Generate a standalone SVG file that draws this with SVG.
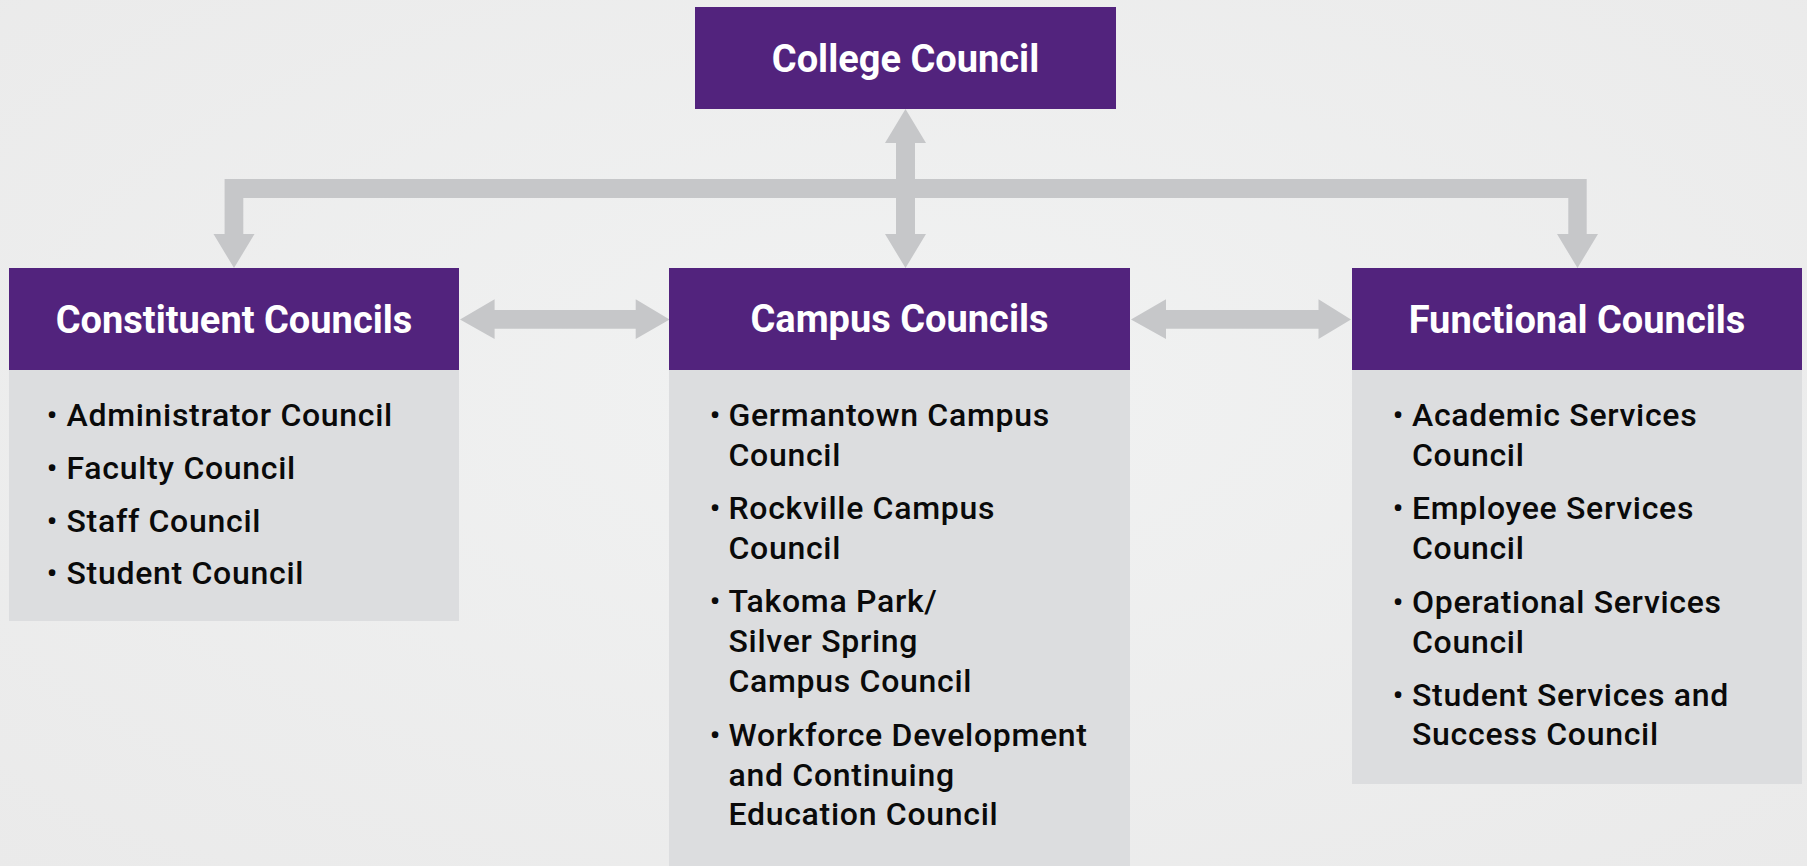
<svg xmlns="http://www.w3.org/2000/svg" width="1807" height="866" viewBox="0 0 1807 866">
<defs>
<radialGradient id="bg" cx="0.5" cy="0.45" r="0.75">
<stop offset="0" stop-color="#f1f2f2"/>
<stop offset="1" stop-color="#eaeaea"/>
</radialGradient>
<style>
.hdr{fill:#52237d}
.body{fill:#dcdddf}
.conn{fill:#c6c7c9}
.ht{font-family:Roboto,"Liberation Sans",sans-serif;font-weight:700;font-size:38px;fill:#ffffff;text-anchor:middle}
.it{font-family:Roboto,"Liberation Sans",sans-serif;font-weight:500;font-size:32px;letter-spacing:0.7px;fill:#0a0a0a}
.bu{font-family:Roboto,"Liberation Sans",sans-serif;font-weight:500;font-size:30px;fill:#0a0a0a;text-anchor:middle}
</style>
</defs>
<rect width="1807" height="866" fill="url(#bg)"/>
<g id="connectors">
<polygon class="conn" points="224.6,179 1586.7,179 1586.7,234 1598,234 1577.5,268 1557,234 1568.3,234 1568.3,198 243.3,198 243.3,234 254.5,234 234,268 213.5,234 224.6,234"/>
<polygon class="conn" points="905.5,109 926,143 915,143 915,234 926,234 905.5,268 885,234 896,234 896,143 885,143"/>
<polygon class="conn" points="460,319.5 494.6,299.3 494.6,310 635.7,310 635.7,299.3 669.6,319.5 635.7,339 635.7,328.7 494.6,328.7 494.6,339"/>
<polygon class="conn" points="1131,319.5 1166,299.3 1166,310 1318.5,310 1318.5,299.3 1351,319.5 1318.5,339 1318.5,328.7 1166,328.7 1166,339"/>
</g>
<g id="college">
<rect class="hdr" x="695" y="7" width="421" height="102"/>
<text class="ht" x="905.5" y="72">College Council</text>
</g>
<g id="constituent">
<rect class="body" x="9" y="370" width="450" height="251"/>
<rect class="hdr" x="9" y="268" width="450" height="102"/>
<text class="ht" x="234" y="333">Constituent Councils</text>
<text class="bu" x="52" y="426">•</text><text class="it" x="66.5" y="426">Administrator Council</text>
<text class="bu" x="52" y="479">•</text><text class="it" x="66.5" y="479">Faculty Council</text>
<text class="bu" x="52" y="531.7">•</text><text class="it" x="66.5" y="531.7">Staff Council</text>
<text class="bu" x="52" y="584">•</text><text class="it" x="66.5" y="584">Student Council</text>
</g>
<g id="campus">
<rect class="body" x="669" y="370" width="461" height="496"/>
<rect class="hdr" x="669" y="268" width="461" height="102"/>
<text class="ht" x="899.5" y="332">Campus Councils</text>
<text class="bu" x="715" y="425.7">•</text><text class="it" x="728.5" y="425.7">Germantown Campus</text>
<text class="it" x="728.5" y="465.7">Council</text>
<text class="bu" x="715" y="519.3">•</text><text class="it" x="728.5" y="519.3">Rockville Campus</text>
<text class="it" x="728.5" y="559.3">Council</text>
<text class="bu" x="715" y="611.7">•</text><text class="it" x="728.5" y="611.7">Takoma Park/</text>
<text class="it" x="728.5" y="651.7">Silver Spring</text>
<text class="it" x="728.5" y="691.7">Campus Council</text>
<text class="bu" x="715" y="745.7">•</text><text class="it" x="728.5" y="745.7">Workforce Development</text>
<text class="it" x="728.5" y="785.5">and Continuing</text>
<text class="it" x="728.5" y="825.3">Education Council</text>
</g>
<g id="functional">
<rect class="body" x="1352" y="370" width="450" height="414"/>
<rect class="hdr" x="1352" y="268" width="450" height="102"/>
<text class="ht" x="1577" y="332.7">Functional Councils</text>
<text class="bu" x="1398" y="425.7">•</text><text class="it" x="1412" y="425.7">Academic Services</text>
<text class="it" x="1412" y="465.7">Council</text>
<text class="bu" x="1398" y="519.3">•</text><text class="it" x="1412" y="519.3">Employee Services</text>
<text class="it" x="1412" y="559.3">Council</text>
<text class="bu" x="1398" y="612.7">•</text><text class="it" x="1412" y="612.7">Operational Services</text>
<text class="it" x="1412" y="652.7">Council</text>
<text class="bu" x="1398" y="706">•</text><text class="it" x="1412" y="706">Student Services and</text>
<text class="it" x="1412" y="745.3">Success Council</text>
</g>
</svg>
